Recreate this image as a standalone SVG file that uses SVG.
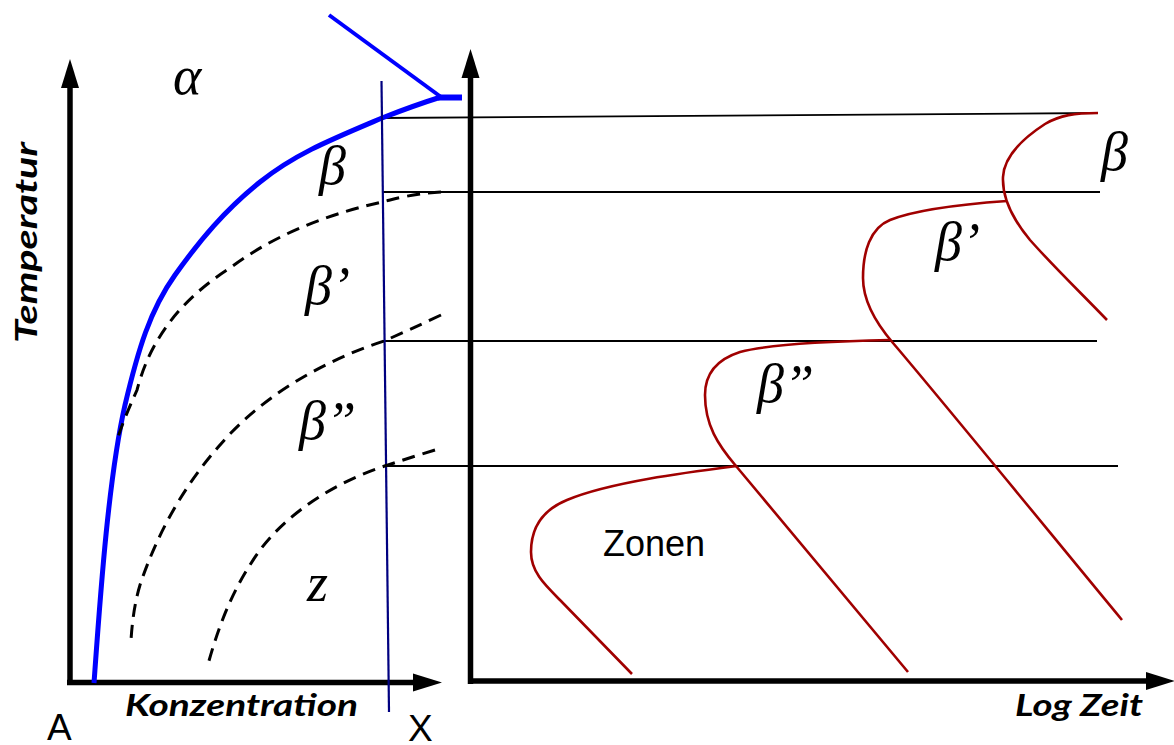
<svg xmlns="http://www.w3.org/2000/svg" width="1174" height="745" viewBox="0 0 1174 745">
<style>
.axis{stroke:#000;stroke-width:5.5;fill:none}
.grid{stroke:#000;stroke-width:1.8;fill:none}
.dash{stroke:#000;stroke-width:3;fill:none;stroke-dasharray:13 8}
.blue{stroke:#0000ff;fill:none;stroke-linecap:butt;stroke-linejoin:round}
.red{stroke:#a00000;stroke-width:2.6;fill:none;stroke-linejoin:round}
.greek{font-family:"Liberation Serif","Times New Roman",serif;font-style:italic;font-size:54px;fill:#000}
.ax{font-family:Lato,"Open Sans",sans-serif;font-style:italic;font-weight:bold;font-size:31px;fill:#000}
.plain{font-family:"Liberation Sans",Arial,sans-serif;fill:#000}
</style>
<defs>
<marker id="arr" markerUnits="userSpaceOnUse" markerWidth="32" markerHeight="20" refX="0" refY="9" orient="auto" overflow="visible">
<path d="M0,0 L29,9 L0,18 z" fill="#000"/>
</marker>
</defs>
<rect width="1174" height="745" fill="#fff"/>
<g id="axes">
<line class="axis" x1="70" y1="685" x2="70" y2="88" marker-end="url(#arr)"/>
<line class="axis" x1="67" y1="682.5" x2="413" y2="682.5" marker-end="url(#arr)"/>
<line class="axis" x1="470.5" y1="684" x2="470.5" y2="78" marker-end="url(#arr)"/>
<line class="axis" x1="468" y1="681" x2="1146" y2="681" marker-end="url(#arr)"/>
</g>
<g id="grid-lines">
<line class="grid" x1="382" y1="118" x2="1097" y2="113"/>
<line class="grid" x1="383" y1="192" x2="1100" y2="192"/>
<line class="grid" x1="383" y1="341" x2="1097" y2="341"/>
<line class="grid" x1="386" y1="466" x2="1118" y2="466"/>
</g>
<g id="blue-curves">
<path class="blue" stroke-width="5" d="M94,683 C100,600 108,480 125,405 C138,350 150,310 175,275 C200,240 225,210 260,182 C295,154 330,140 382,118 C405,109 425,102 441,97"/>
<path class="blue" stroke-width="4" d="M329,15 L441,97"/>
<path class="blue" stroke-width="6" d="M438,97.5 L462,97.5"/>
<path stroke="#000080" stroke-width="2.2" fill="none" d="M381.5,81 L389,712"/>
</g>
<g id="phase-boundaries">
<path class="dash" d="M441,192 C410,194 395,199 382,202 C320,216 270,238 230,268 C180,300 150,340 137,390 C128,410 122,425 118,437"/>
<path class="dash" d="M441,315 C420,325 400,334 384,341 C320,362 260,398 220,445 C180,490 155,540 140,585 C134,605 132,625 131,640"/>
<path class="dash" d="M435,450 C415,456 400,461 388,465 C340,480 290,510 260,550 C235,585 220,620 207,668"/>
</g>
<g id="red-curves">
<path class="red" d="M737,466 C690,472 610,482 567,500 C540,511 531,530 531,552 C531,572 545,585 560,600 L632,674"/>
<path class="red" d="M890,340 C840,341 770,344 740,352 C715,360 705,375 705,395 C705,425 718,445 736,466 L908,672"/>
<path class="red" d="M1007,201 C965,204 915,210 890,220 C870,228 863,252 863,278 C863,300 875,322 893,343 C940,398 1060,545 1122,620"/>
<path class="red" d="M1098,113 C1075,113 1060,115 1045,124 C1025,137 1004,155 1003,177 C1002,200 1015,222 1030,240 C1055,268 1080,292 1107,320"/>
</g>
<g id="labels">
<text class="greek" x="173" y="94">α</text>
<text class="greek" x="319" y="184">β</text>
<text class="greek" x="305" y="304">β’</text>
<text class="greek" x="299" y="439">β”</text>
<text class="greek" x="307" y="601">z</text>
<text class="greek" x="1101" y="170">β</text>
<text class="greek" x="935" y="260">β’</text>
<text class="greek" x="757" y="402">β”</text>
<text class="plain" x="603" y="556" font-size="36">Zonen</text>
<text class="plain" x="47" y="740" font-size="37">A</text>
<text class="plain" x="408" y="741" font-size="37">X</text>
<text class="ax" x="125" y="716" textLength="233" lengthAdjust="spacingAndGlyphs">Konzentration</text>
<text class="ax" x="1015" y="716" textLength="128" lengthAdjust="spacingAndGlyphs">Log Zeit</text>
<text class="ax" transform="translate(37,343) rotate(-90)" x="0" y="0" textLength="201" lengthAdjust="spacingAndGlyphs">Temperatur</text>
</g>
</svg>
